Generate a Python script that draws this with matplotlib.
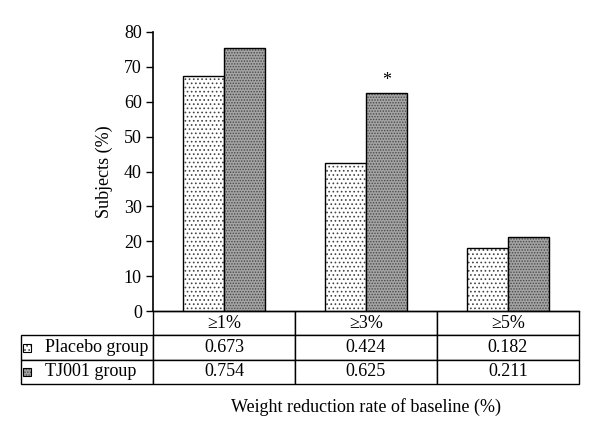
import numpy as np
import matplotlib.pyplot as plt
from matplotlib.patches import Rectangle

plt.rcParams['font.family'] = ['Liberation Serif', 'DejaVu Serif']
plt.rcParams['hatch.linewidth'] = 0.7

# data
categories = ['≥1%', '≥3%', '≥5%']
groups = ['Placebo group', 'TJ001 group']
placebo = [0.673, 0.424, 0.182]
tj001 = [0.754, 0.625, 0.211]
significant = [False, True, False]  # TJ001 vs placebo

W, H = 600, 437
fig = plt.figure(figsize=(6, 4.37), dpi=100)

# axes placed in pixel terms of the reference
x0, x1 = 153, 579
y_top, y_bot = 32, 311
ax = fig.add_axes([x0 / W, 1 - y_bot / H, (x1 - x0) / W, (y_bot - y_top) / H])

x = np.arange(len(categories))
bw = 0.29
p_vals = np.array(placebo) * 100
t_vals = np.array(tj001) * 100

# placebo: white with dots
ax.bar(x - bw / 2, p_vals, bw, color='white', edgecolor='#444444', hatch='....', linewidth=0)
ax.bar(x - bw / 2, p_vals, bw, fill=False, edgecolor='black', linewidth=1)
# TJ001: gray with dense dots
ax.bar(x + bw / 2, t_vals, bw, color='#a4a4a4', edgecolor='#4a4a4a', hatch='......', linewidth=0)
ax.bar(x + bw / 2, t_vals, bw, fill=False, edgecolor='black', linewidth=1)

for i, s in enumerate(significant):
    if s:
        ax.text(x[i] + bw / 2, t_vals[i] + 1.2, '*', ha='center', va='bottom', fontsize=13)

ax.set_xlim(-0.5, len(categories) - 0.5)
ax.set_ylim(0, 80)
ax.set_yticks(range(0, 81, 10))
ax.tick_params(axis='y', direction='out', length=5, width=1, labelsize=13, pad=3)
ax.set_xticks([])
for s in ['top', 'right']:
    ax.spines[s].set_visible(False)
ax.spines['left'].set_linewidth(1.2)
ax.spines['bottom'].set_linewidth(1)
ax.set_ylabel('Subjects (%)', fontsize=13, labelpad=8)

# table under the axes
rows = [[''] + categories,
        [''] + ['%.3f' % v for v in placebo],
        [''] + ['%.3f' % v for v in tj001]]
plot_h = y_bot - y_top
tab_left = (21 - x0) / (x1 - x0)
tab_bottom = -(384 - y_bot) / plot_h
tab_height = (384 - y_bot) / plot_h
label_w = (x0 - 21) / (x1 - x0)
col_w = (1 - 0) / 3
tbl = ax.table(cellText=rows, cellLoc='center',
               colWidths=[label_w, col_w, col_w, col_w],
               bbox=[tab_left, tab_bottom, 1 - tab_left, tab_height])
tbl.auto_set_font_size(False)
tbl.set_fontsize(13)
for (r, c), cell in tbl.get_celld().items():
    cell.set_linewidth(1)
    cell.set_edgecolor('black')
tbl[0, 0].visible_edges = ''

# row labels with swatches
row_h = tab_height / 3
styles = [dict(facecolor='white', edgecolor='#444444', hatch='....'),
          dict(facecolor='#a4a4a4', edgecolor='#4a4a4a', hatch='......')]
for i, (g, st) in enumerate(zip(groups, styles)):
    yc = tab_bottom + row_h * (1.5 - i)
    sw = 8 / (x1 - x0)
    sh = 8 / plot_h
    ax.add_patch(Rectangle((tab_left + 2 / (x1 - x0), yc - sh / 2), sw, sh,
                           transform=ax.transAxes, clip_on=False, linewidth=0, **st))
    ax.add_patch(Rectangle((tab_left + 2 / (x1 - x0), yc - sh / 2), sw, sh,
                           transform=ax.transAxes, clip_on=False, fill=False,
                           edgecolor='black', linewidth=0.8))
    ax.text(tab_left + 24 / (x1 - x0), yc, g, transform=ax.transAxes,
            ha='left', va='center', fontsize=13)

fig.text(366 / W, 1 - 407 / H, 'Weight reduction rate of baseline (%)',
         ha='center', va='center', fontsize=13)

fig.savefig('out.png', dpi=100)
